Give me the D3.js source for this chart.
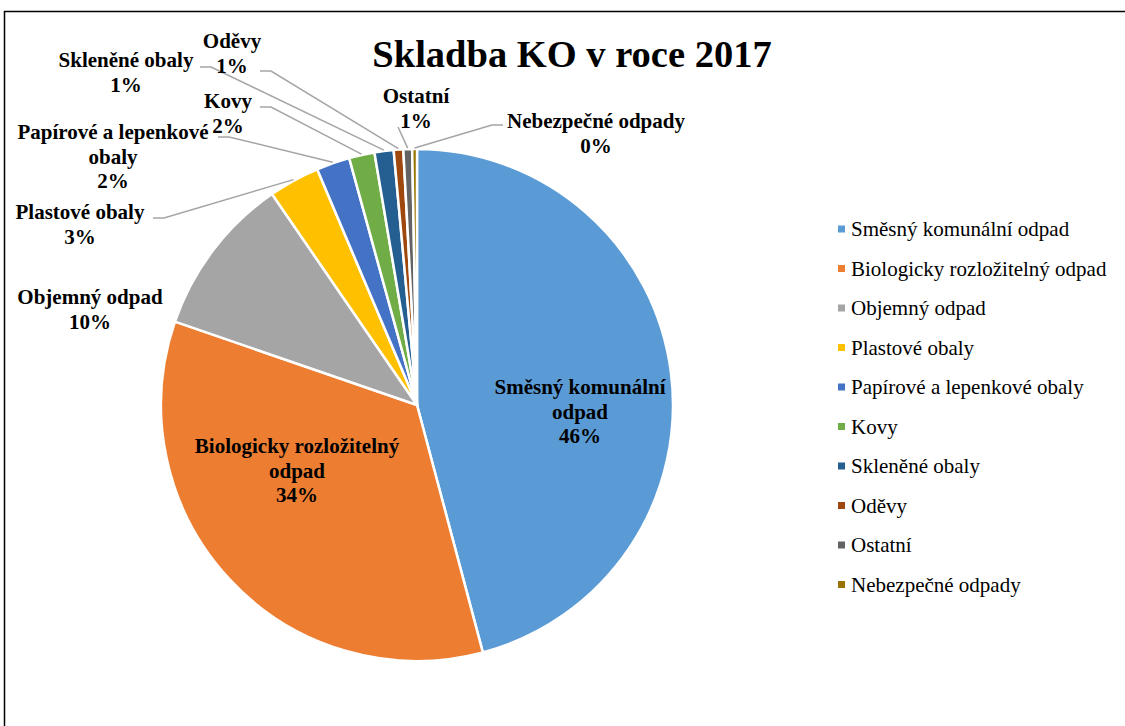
<!DOCTYPE html>
<html>
<head>
<meta charset="utf-8">
<script src="https://cdn.jsdelivr.net/npm/d3@7"></script>
<style>
  body { margin: 0; background: #fff; }
  text { font-family: "Liberation Serif", "Times New Roman", serif; }
</style>
</head>
<body>
<div id="chart"></div>
<script>
// data
var categories = ["Směsný komunální odpad", "Biologicky rozložitelný odpad", "Objemný odpad",
  "Plastové obaly", "Papírové a lepenkové obaly", "Kovy", "Skleněné obaly", "Oděvy",
  "Ostatní", "Nebezpečné odpady"];
var values = [45.7, 34.3, 10.1, 3.2, 2.1, 1.6, 1.2, 0.6, 0.55, 0.3];
var colors = ["#5B9BD5", "#ED7D31", "#A5A5A5", "#FFC000", "#4472C4", "#70AD47",
  "#255E91", "#9E480E", "#636363", "#997300"];
// data label text lines (without the percentage)
var labelLines = [["Směsný komunální", "odpad"], ["Biologicky rozložitelný", "odpad"],
  ["Objemný odpad"], ["Plastové obaly"], ["Papírové a lepenkové", "obaly"], ["Kovy"],
  ["Skleněné obaly"], ["Oděvy"], ["Ostatní"], ["Nebezpečné odpady"]];

// label layout: x,y = centre of first line; lead = start of leader line, dir = elbow direction
var labelLayout = [
  {x: 580, y: 387, inside: true},
  {x: 297, y: 446, inside: true},
  {x: 90, y: 297},
  {x: 80, y: 212, lead: [153, 218], dir: 1},
  {x: 113, y: 132, lead: [218, 137], dir: 1},
  {x: 228, y: 101, lead: [260, 107], dir: 1},
  {x: 126, y: 60, lead: [200, 67], dir: 1},
  {x: 232, y: 41, lead: [260, 71], dir: 1},
  {x: 416, y: 96, lead: [398, 127], dir: 0},
  {x: 596, y: 121, lead: [503, 125], dir: -1}
];

var W = 1125, H = 726;
var cx = 417, cy = 405, radius = 256;

var svg = d3.select("#chart")
  .append("svg")
  .attr("width", W)
  .attr("height", H);

// outer frame (only left and top visible)
svg.append("rect")
  .attr("x", 4.5)
  .attr("y", 11.5)
  .attr("width", W + 20)
  .attr("height", H + 20)
  .attr("fill", "none")
  .attr("stroke", "#000")
  .attr("stroke-width", 1.5);

// title
svg.append("text")
  .attr("x", 572)
  .attr("y", 67)
  .attr("text-anchor", "middle")
  .style("font-size", "38.5px")
  .style("font-weight", "bold")
  .text("Skladba KO v roce 2017");

var data = categories.map(function(c, i) { return {name: c, value: values[i], i: i}; });
var total = d3.sum(values);

var pie = d3.pie()
  .sort(null)
  .value(function(d) { return d.value; });

var arcs = pie(data);

var arc = d3.arc().innerRadius(0).outerRadius(radius);
var edgeArc = d3.arc().innerRadius(radius + 1).outerRadius(radius + 1);

var g = svg.append("g")
  .attr("transform", "translate(" + cx + "," + cy + ")");

g.selectAll("path.slice")
  .data(arcs)
  .enter()
  .append("path")
    .attr("class", "slice")
    .attr("d", arc)
    .style("fill", function(d) { return colors[d.data.i]; })
    .style("stroke", "#fff")
    .style("stroke-width", 2.5)
    .style("stroke-linejoin", "round");

// leader lines
arcs.forEach(function(d) {
  var L = labelLayout[d.data.i];
  if (!L.lead) return;
  var p = edgeArc.centroid(d);
  var pts = [L.lead];
  if (L.dir !== 0) pts.push([L.lead[0] + L.dir * 11, L.lead[1]]);
  pts.push([p[0] + cx, p[1] + cy]);
  svg.append("path")
    .attr("d", d3.line()(pts))
    .attr("fill", "none")
    .attr("stroke", "#A5A5A5")
    .attr("stroke-width", 1.5);
});

// data labels
var pct = function(v) { return Math.round(v / total * 100) + "%"; };
arcs.forEach(function(d) {
  var L = labelLayout[d.data.i];
  var lines = labelLines[d.data.i].concat([pct(d.data.value)]);
  var t = svg.append("text")
    .attr("text-anchor", "middle")
    .style("font-size", "21px")
    .style("font-weight", "bold")
    .attr("fill", "#000");
  lines.forEach(function(s, k) {
    t.append("tspan")
      .attr("x", L.x)
      .attr("y", L.y + k * 24.5)
      .attr("dy", "0.35em")
      .text(s);
  });
});

// legend
var legend = svg.append("g")
  .attr("transform", "translate(838,229)");
var row = legend.selectAll("g")
  .data(categories)
  .enter()
  .append("g")
  .attr("transform", function(d, i) { return "translate(0," + (i * 39.5) + ")"; });
row.append("rect")
  .attr("x", 0)
  .attr("y", -3.5)
  .attr("width", 7)
  .attr("height", 7)
  .style("fill", function(d, i) { return colors[i]; });
row.append("text")
  .attr("x", 13)
  .attr("y", 0)
  .attr("dy", "0.35em")
  .style("font-size", "21px")
  .attr("fill", "#000")
  .text(function(d) { return d; });
</script>
</body>
</html>
